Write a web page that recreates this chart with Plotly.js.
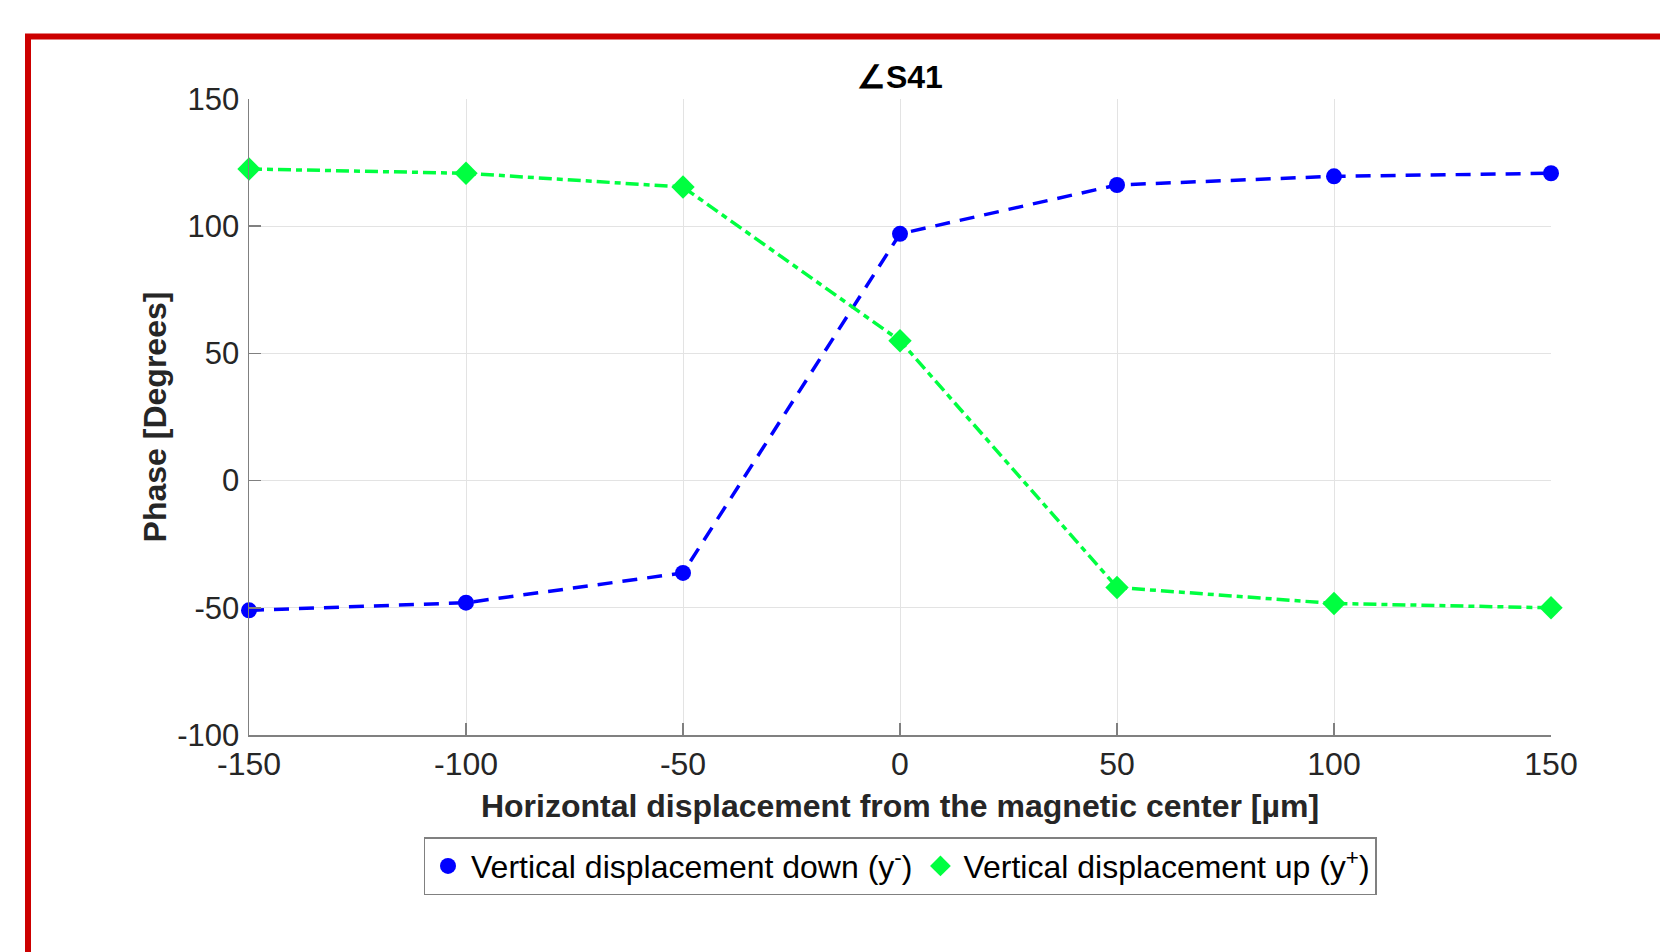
<!DOCTYPE html>
<html>
<head>
<meta charset="utf-8">
<script src="https://cdn.plot.ly/plotly-3.0.1.min.js"></script>
<style>html,body{margin:0;padding:0;background:#fff;}#chart{width:1660px;height:952px;}</style>
</head>
<body>
<div id="chart"></div>
<script>
const xValues = [-150, -100, -50, 0, 50, 100, 150];
const downPhase = [-51, -48, -36.3, 97, 116.2, 119.6, 120.8];
const upPhase = [122.5, 120.8, 115.4, 55, -42, -48.3, -50];
const xTicks = [-150, -100, -50, 0, 50, 100, 150];
const yTicks = [-100, -50, 0, 50, 100, 150];
const downName = 'Vertical displacement down (y<sup>-</sup>)';
const upName = 'Vertical displacement up (y<sup>+</sup>)';

const blue = 'rgb(0,0,255)';
const green = 'rgb(0,255,64)';
const font = 'Arial, "Liberation Sans", Helvetica, sans-serif';

const traces = [
  {x: xValues, y: downPhase, mode: 'lines', line: {color: blue, width: 3.5, dash: '15px,10px'}, showlegend: false, hoverinfo: 'skip', cliponaxis: false},
  {x: xValues, y: upPhase, mode: 'lines', line: {color: green, width: 3.5, dash: '13px,5px,6px,5px'}, showlegend: false, hoverinfo: 'skip', cliponaxis: false},
  {x: xValues, y: downPhase, mode: 'markers', name: downName, marker: {symbol: 'circle', size: 16, color: blue}, cliponaxis: false},
  {x: xValues, y: upPhase, mode: 'markers', name: upName, marker: {symbol: 'diamond', size: 18, color: green}, cliponaxis: false}
];

const layout = {
  width: 1660, height: 952,
  margin: {l: 249, r: 109, t: 99, b: 217},
  paper_bgcolor: '#fff', plot_bgcolor: '#fff',
  font: {family: font, size: 32, color: '#262626'},
  title: {text: '<b>∠S41</b>', x: 0.5421, xanchor: 'center', y: 1 - 77/952, yanchor: 'middle', font: {family: font, size: 32, color: '#000'}},
  xaxis: {
    range: [-150, 150], tickvals: xTicks, ticktext: xTicks.map(String),
    showgrid: true, gridcolor: '#e3e3e3', gridwidth: 1,
    showline: true, linecolor: '#808080', linewidth: 1.5,
    ticks: 'inside', ticklen: 12, tickcolor: '#808080', tickwidth: 1.5,
    zeroline: false, automargin: false,
    tickfont: {family: font, size: 32, color: '#262626'},
    title: {text: '<b>Horizontal displacement from the magnetic center [µm]</b>', standoff: 13, font: {family: font, size: 32, color: '#262626'}}
  },
  yaxis: {
    range: [-100, 150], tickvals: yTicks, ticktext: yTicks.map(String),
    showgrid: true, gridcolor: '#e3e3e3', gridwidth: 1,
    showline: true, linecolor: '#808080', linewidth: 1.5,
    ticks: 'inside', ticklen: 12, tickcolor: '#808080', tickwidth: 1.5,
    zeroline: false, automargin: false, ticklabelstandoff: 2,
    tickfont: {family: font, size: 31, color: '#262626'},
    title: {text: '<b>Phase [Degrees]</b>', standoff: 1, font: {family: font, size: 32, color: '#262626'}}
  },
  legend: {
    orientation: 'h', x: 0.5, xanchor: 'center', y: (735 - 837) / 635.5, yanchor: 'top',
    bordercolor: '#808080', borderwidth: 1.5, bgcolor: '#fff',
    font: {family: font, size: 32, color: '#000'}, itemwidth: 36
  },
  shapes: [{
    type: 'rect', xref: 'paper', yref: 'paper',
    x0: (28 - 249) / 1302, x1: 1.3, y0: -0.6, y1: (735 - 37) / 635.5,
    line: {color: 'rgb(204,0,0)', width: 6}, fillcolor: 'rgba(0,0,0,0)', layer: 'above'
  }],
  showlegend: true
};

Plotly.newPlot('chart', traces, layout, {displayModeBar: false, staticPlot: true});
</script>
</body>
</html>
